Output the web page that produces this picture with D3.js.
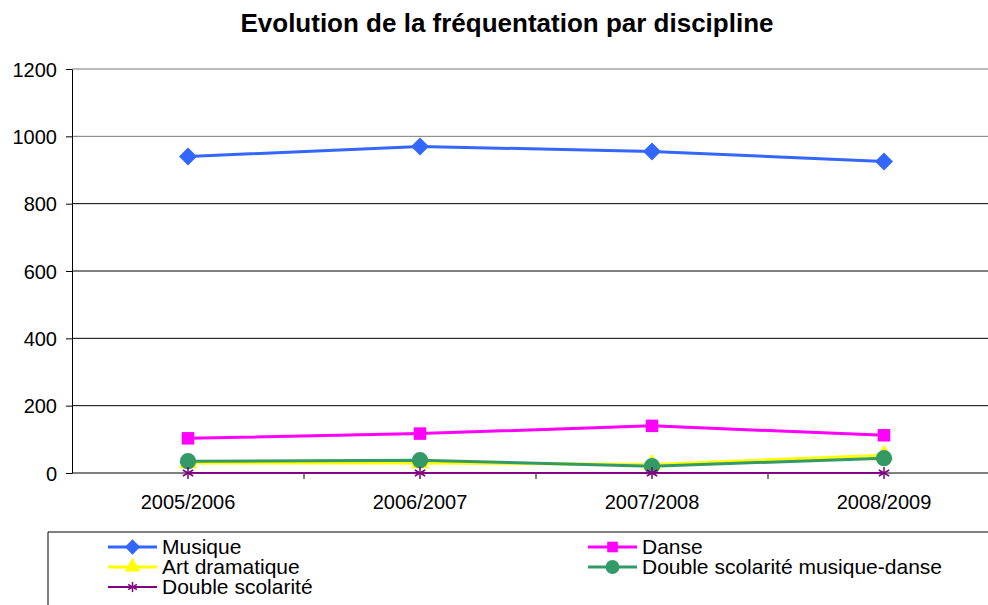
<!DOCTYPE html>
<html lang="en">
<head>
<meta charset="UTF-8">
<title>Evolution de la fréquentation par discipline</title>
<style>
  body { margin: 0; background: #fff; }
  svg { font-family: "Liberation Sans", Arial, sans-serif; display: block; }
  .axis path, .axis line { stroke: #000; }
  .axis text { font-size: 20px; fill: #000; }
</style>
</head>
<body>
<div id="chart"></div>
<script src="https://d3js.org/d3.v7.min.js"></script>
<script>
const years = ["2005/2006", "2006/2007", "2007/2008", "2008/2009"];
const musique = [940, 970, 955, 925];
const danse = [103, 117, 140, 112];
const artDramatique = [30, 30, 25, 53];
const doubleMusiqueDanse = [35, 38, 20, 44];
const doubleScolarite = [0, 0, 0, 0];
const yTicks = [0, 200, 400, 600, 800, 1000, 1200];

const width = 988, height = 605;
const margin = { left: 72, right: -12, top: 69, bottom: 132 };

// custom diamond (squat, like the Excel marker)
const diamond = {
  draw(ctx, size) {
    const r = Math.sqrt(size) / 2;
    ctx.moveTo(0, -r); ctx.lineTo(r, 0); ctx.lineTo(0, r); ctx.lineTo(-r, 0); ctx.closePath();
  }
};

const series = [
  { name: "Musique", values: musique, color: "#3366ff", symbol: diamond, size: 324, width: 3 },
  { name: "Danse", values: danse, color: "#ff00ff", symbol: d3.symbolSquare, size: 156, width: 3 },
  { name: "Art dramatique", values: artDramatique, color: "#ffff00", symbol: d3.symbolTriangle, size: 150, width: 3 },
  { name: "Double scolarité musique-danse", values: doubleMusiqueDanse, color: "#339966", symbol: d3.symbolCircle, size: 210, width: 3 },
  { name: "Double scolarité", values: doubleScolarite, color: "#800080", symbol: "star", size: 6, width: 2 }
];

const svg = d3.select("#chart").append("svg")
  .attr("width", width)
  .attr("height", height);

// title
svg.append("text")
  .attr("x", 507).attr("y", 32)
  .attr("text-anchor", "middle")
  .style("font-size", "26px").style("font-weight", "bold")
  .text("Evolution de la fréquentation par discipline");

const x = d3.scaleBand()
  .domain(years)
  .range([margin.left, width - margin.right]);

const y = d3.scaleLinear()
  .domain([0, 1200])
  .range([height - margin.bottom, margin.top]);

// gridlines
svg.append("g")
  .selectAll("line").data(yTicks.slice(1)).enter().append("line")
  .attr("x1", margin.left).attr("x2", width)
  .attr("y1", d => y(d)).attr("y2", d => y(d))
  .attr("stroke", d => d >= 1000 ? "#777" : "#000");

// y axis
svg.append("g").attr("class", "axis")
  .attr("transform", `translate(${margin.left},0)`)
  .call(d3.axisLeft(y).tickValues(yTicks).tickFormat(d3.format("d"))
    .tickSize(6).tickPadding(9).tickSizeOuter(0))
  .call(g => g.selectAll("text").attr("dy", "0.35em"));

// x axis
const xAxis = svg.append("g").attr("class", "axis")
  .attr("transform", `translate(0,${y(0)})`);
xAxis.append("line")
  .attr("x1", margin.left).attr("x2", width)
  .attr("stroke", "#000");
xAxis.selectAll("line.tick").data(years.slice(1)).enter().append("line")
  .attr("class", "tick")
  .attr("x1", d => x(d)).attr("x2", d => x(d))
  .attr("y1", 0).attr("y2", 6)
  .attr("stroke", "#000");
xAxis.selectAll("text").data(years).enter().append("text")
  .attr("x", d => x(d) + x.bandwidth() / 2)
  .attr("y", 36)
  .attr("text-anchor", "middle")
  .text(d => d);

const line = d3.line()
  .x((d, i) => x(years[i]) + x.bandwidth() / 2)
  .y(d => y(d));

function drawMarker(g, s, cx, cy, scale) {
  if (s.symbol === "star") {
    const r = s.size * scale;
    const star = g.append("g").attr("transform", `translate(${cx},${cy})`);
    [0, 60, 120].forEach(a => {
      const rad = a * Math.PI / 180;
      star.append("line")
        .attr("x1", -r * Math.sin(rad)).attr("y1", -r * Math.cos(rad))
        .attr("x2", r * Math.sin(rad)).attr("y2", r * Math.cos(rad))
        .attr("stroke", s.color).attr("stroke-width", 1.5);
    });
  } else {
    g.append("path")
      .attr("transform", `translate(${cx},${cy})`)
      .attr("d", d3.symbol().type(s.symbol).size(s.size * scale * scale)())
      .attr("fill", s.color);
  }
}

// series lines + markers
series.forEach(s => {
  const g = svg.append("g");
  g.append("path")
    .datum(s.values)
    .attr("fill", "none")
    .attr("stroke", s.color)
    .attr("stroke-width", s.width)
    .attr("d", line);
  s.values.forEach((v, i) => {
    drawMarker(g, s, x(years[i]) + x.bandwidth() / 2, y(v), 1);
  });
});

// legend
const legend = svg.append("g");
legend.append("path")
  .attr("d", `M48,${height}V532H${width}`)
  .attr("fill", "none").attr("stroke", "#000");

const legendPos = [
  [108, 547], [588, 547], [108, 567], [588, 567], [108, 587]
];
series.forEach((s, i) => {
  const [lx, ly] = legendPos[i];
  legend.append("line")
    .attr("x1", lx).attr("x2", lx + 49)
    .attr("y1", ly).attr("y2", ly)
    .attr("stroke", s.color).attr("stroke-width", s.width);
  drawMarker(legend, s, lx + 24.5, ly, 0.85);
  legend.append("text")
    .attr("x", lx + 54).attr("y", ly + 7)
    .style("font-size", "21px")
    .text(s.name);
});
</script>
</body>
</html>
